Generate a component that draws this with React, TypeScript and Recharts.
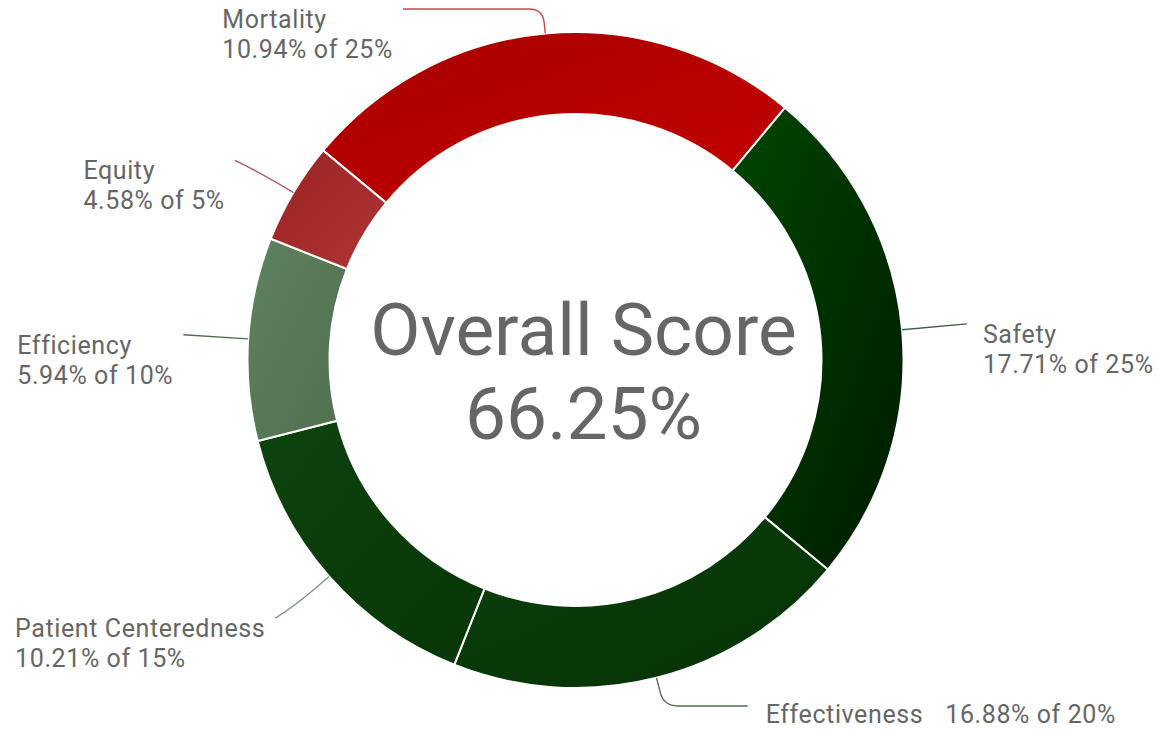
import { PieChart, Pie, Cell } from 'recharts'

// score card: each dimension has a max weight and an achieved score
const categories = ['Mortality', 'Safety', 'Effectiveness', 'Patient Centeredness', 'Efficiency', 'Equity']
const weights = [25, 25, 20, 15, 10, 5]
const scores = [10.94, 17.71, 16.88, 10.21, 5.94, 4.58]
const overallScore = 66.25

// gradient start/end per slice, and the leader line colour
const gradFrom = ['#a80000', '#004600', '#0d400d', '#0e430e', '#5f825f', '#982222']
const gradTo = ['#c40000', '#001a00', '#043104', '#073607', '#506f50', '#b03636']
const lineColors = ['#c44848', '#3f5f3f', '#4f6f4f', '#7a9a7a', '#4c6c4c', '#b0585e']

const W = 1158
const H = 729
const CX = 575.5
const CY = 360
const FONT = 'Roboto, "Noto Sans", sans-serif'
const LABEL_SIZE = 25
const LETTER = 0.6
const LINE_H = 30
const TOP_Y = 9
const BOTTOM_Y = 706
const tails = [140, 0, 84, 0, 0, 0]

const data = categories.map((name, i) => ({ name, weight: weights[i], score: scores[i] }))

let ctx: CanvasRenderingContext2D | null = null
function textWidth(s: string) {
  if (!ctx) ctx = document.createElement('canvas').getContext('2d')
  if (!ctx) return s.length * 12
  ctx.font = `${LABEL_SIZE}px Roboto`
  return ctx.measureText(s).width + LETTER * s.length
}

const RAD = Math.PI / 180

function renderLabel(props: any) {
  const { cx, cy, midAngle, outerRadius, index } = props
  const cos = Math.cos(-midAngle * RAD)
  const sin = Math.sin(-midAngle * RAD)
  const sx = cx + outerRadius * cos
  const sy = cy + outerRadius * sin
  const r = outerRadius + 63
  const fy = cy + r * sin
  const left = cx + r * cos < cx
  const dir = left ? -1 : 1
  const color = lineColors[index]
  const name = categories[index]
  const value = `${scores[index].toFixed(2)}% of ${weights[index]}%`
  const textProps = { fill: '#666', fontSize: LABEL_SIZE, fontFamily: FONT, letterSpacing: LETTER }

  let path: string
  let ex: number
  let ey: number
  let inline = false
  if (fy < TOP_Y || fy > BOTTOM_Y) {
    ey = fy < TOP_Y ? TOP_Y : BOTTOM_Y
    inline = fy > BOTTOM_Y
    const rr = (ey - cy) / sin
    const kx = cx + rr * cos
    const bend = 14
    ex = kx + dir * tails[index]
    path = `M${sx},${sy} L${kx - bend * cos},${ey - bend * sin} Q${kx},${ey} ${kx + dir * bend},${ey} L${ex},${ey}`
  } else {
    const c = { x: cx + (outerRadius + 45) * cos, y: cy + (outerRadius + 45) * sin }
    ex = c.x + dir * 20
    ey = fy
    path = `M${sx},${sy} Q${c.x},${c.y} ${ex},${ey}`
  }

  let text
  if (inline) {
    text = (
      <text x={ex + 18} y={ey + 17} {...textProps}>
        {name}
        <tspan dx={22}>{value}</tspan>
      </text>
    )
  } else {
    const blockW = Math.max(textWidth(name), textWidth(value))
    const tx = left ? ex - 10 - blockW : ex + 16
    const by = ey + 19
    text = (
      <text x={tx} y={by} {...textProps}>
        <tspan x={tx} y={by}>{name}</tspan>
        <tspan x={tx} y={by + LINE_H}>{value}</tspan>
      </text>
    )
  }

  return (
    <g key={`lbl-${index}`}>
      <path d={path} fill="none" stroke={color} strokeWidth={1.4} />
      {text}
    </g>
  )
}

export default function App() {
  return (
    <div style={{ position: 'absolute', left: 0, top: 0, width: W, height: H, background: '#fff' }}>
      <PieChart width={W} height={H} margin={{ top: 0, right: 0, bottom: 0, left: 0 }}>
        <defs>
          {categories.map((c, i) => (
            <linearGradient key={c} id={`g${i}`} x1="0" y1="0" x2="1" y2="1">
              <stop offset="0%" stopColor={gradFrom[i]} />
              <stop offset="100%" stopColor={gradTo[i]} />
            </linearGradient>
          ))}
        </defs>
        <Pie
          data={data}
          dataKey="weight"
          nameKey="name"
          cx={CX}
          cy={CY}
          innerRadius={246}
          outerRadius={328}
          startAngle={140.3}
          endAngle={-219.7}
          stroke="#fff"
          strokeWidth={2}
          label={renderLabel}
          labelLine={false}
          isAnimationActive={false}
        >
          {data.map((d, i) => (
            <Cell key={d.name} fill={`url(#g${i})`} />
          ))}
        </Pie>
        <text x={CX + 8} y={CY - 5} textAnchor="middle" fill="#666" fontSize={73} fontFamily={FONT}>
          Overall Score
        </text>
        <text x={CX + 8} y={CY + 79} textAnchor="middle" fill="#666" fontSize={73} fontFamily={FONT}>
          {overallScore.toFixed(2)}%
        </text>
      </PieChart>
    </div>
  )
}
